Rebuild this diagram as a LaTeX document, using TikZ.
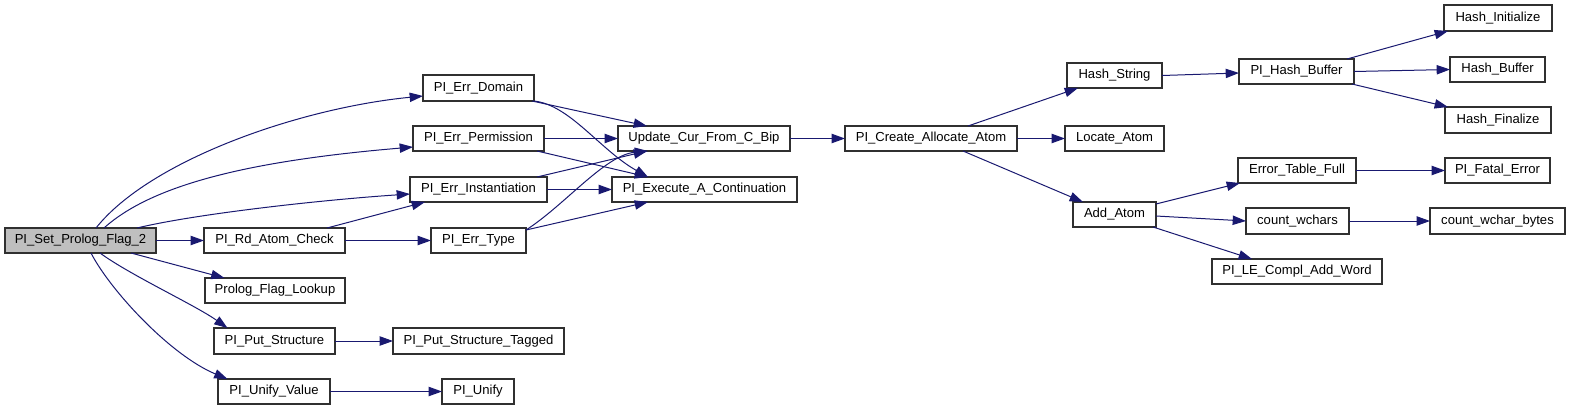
\documentclass[tikz,border=0pt]{standalone}
\usepackage{fontspec}
\setmainfont{Liberation Sans}
\usetikzlibrary{arrows.meta,calc}
\definecolor{edgeblue}{HTML}{191970}
\definecolor{startgray}{HTML}{BFBFBF}
\definecolor{boxline}{HTML}{303030}
\tikzset{
  fnbox/.style={draw=boxline, line width=0.8pt, fill=white, inner sep=0pt, outer sep=0pt, font=\fontsize{9.8}{11}\selectfont},
  startbox/.style={fnbox, fill=startgray},
  call/.style={draw=edgeblue, line width=0.75pt, -{Triangle[length=10pt,width=7pt]}, edgeblue}
}
\newcommand{\fnnode}[7]{\node[#1, minimum width={(#5-#3)*0.75pt}, minimum height={(#6-#4)*0.75pt}] (#2) at ({(#3+#5)/2},{(#4+#6)/2}) {#7};}
\begin{document}
\begin{tikzpicture}[x=0.75pt,y=-0.75pt]
\useasboundingbox (0,0) rectangle (1571,411);
% nodes
\fnnode{startbox}{set}{5}{228}{156}{253}{PI\_Set\_Prolog\_Flag\_2}
\fnnode{fnbox}{dom}{423}{75}{534}{101}{PI\_Err\_Domain}
\fnnode{fnbox}{perm}{413}{126}{544}{151}{PI\_Err\_Permission}
\fnnode{fnbox}{inst}{410}{177}{547}{202}{PI\_Err\_Instantiation}
\fnnode{fnbox}{rd}{204}{228}{345}{253}{PI\_Rd\_Atom\_Check}
\fnnode{fnbox}{typ}{431}{228}{526}{253}{PI\_Err\_Type}
\fnnode{fnbox}{pfl}{205}{278}{345}{303}{Prolog\_Flag\_Lookup}
\fnnode{fnbox}{put}{214}{328}{335}{354}{PI\_Put\_Structure}
\fnnode{fnbox}{putt}{393}{328}{564}{354}{PI\_Put\_Structure\_Tagged}
\fnnode{fnbox}{uv}{218}{379}{330}{404}{PI\_Unify\_Value}
\fnnode{fnbox}{un}{442}{379}{514}{404}{PI\_Unify}
\fnnode{fnbox}{upd}{618}{126}{790}{151}{Update\_Cur\_From\_C\_Bip}
\fnnode{fnbox}{exe}{612}{177}{797}{202}{PI\_Execute\_A\_Continuation}
\fnnode{fnbox}{cre}{845}{126}{1017}{151}{PI\_Create\_Allocate\_Atom}
\fnnode{fnbox}{hs}{1067}{63}{1162}{88}{Hash\_String}
\fnnode{fnbox}{loc}{1065}{126}{1164}{151}{Locate\_Atom}
\fnnode{fnbox}{add}{1073}{202}{1156}{227}{Add\_Atom}
\fnnode{fnbox}{phb}{1239}{59}{1354}{84}{PI\_Hash\_Buffer}
\fnnode{fnbox}{hi}{1444}{5}{1552}{31}{Hash\_Initialize}
\fnnode{fnbox}{hb}{1450}{57}{1545}{82}{Hash\_Buffer}
\fnnode{fnbox}{hf}{1445}{107}{1551}{133}{Hash\_Finalize}
\fnnode{fnbox}{etf}{1238}{158}{1356}{183}{Error\_Table\_Full}
\fnnode{fnbox}{pfe}{1445}{158}{1550}{183}{PI\_Fatal\_Error}
\fnnode{fnbox}{cw}{1246}{208}{1349}{234}{count\_wchars}
\fnnode{fnbox}{cwb}{1430}{208}{1565}{234}{count\_wchar\_bytes}
\fnnode{fnbox}{le}{1212}{259}{1382}{284}{PI\_LE\_Compl\_Add\_Word}
% edges from PI_Set_Prolog_Flag_2
\draw[call] ($(set.north west)+(91,0)$) .. controls (150,160) and (300,108) .. ($(dom.north west)+(0,21)$);
\draw[call] ($(set.north west)+(99,0)$) .. controls (155,182) and (260,160) .. ($(perm.north west)+(0,21)$);
\draw[call] ($(set.north west)+(132,0)$) .. controls (195,214) and (320,200) .. ($(inst.north west)+(0,17)$);
\draw[call] (set.east) -- (rd.west);
\draw[call] ($(set.south west)+(126,0)$) -- ($(pfl.north west)+(19.5,0)$);
\draw[call] ($(set.south west)+(95,0)$) .. controls (130,275) and (195,305) .. ($(put.north west)+(13.5,0)$);
\draw[call] ($(set.south west)+(86,0)$) .. controls (110,290) and (170,355) .. ($(uv.north west)+(9.5,0)$);
% PI_Rd_Atom_Check
\draw[call] ($(rd.north east)+(-18,0)$) -- ($(inst.south west)+(15,0)$);
\draw[call] (rd.east) -- (typ.west);
% error functions
\draw[call] ($(dom.south east)+(-2,0)$) -- ($(upd.north west)+(29,0)$);
\draw[call] (dom.south east) .. controls (570,105) and (600,150) .. ($(exe.north west)+(36,0)$);
\draw[call] (perm.east) -- (upd.west);
\draw[call] ($(perm.south east)+(-7,0)$) -- ($(exe.north west)+(36,0)$);
\draw[call] ($(inst.north east)+(-10,0)$) -- ($(upd.south west)+(29,0)$);
\draw[call] (inst.east) -- (exe.west);
\draw[call] ($(typ.north east)+(0,2)$) .. controls (565,205) and (605,155) .. ($(upd.south west)+(30,0)$);
\draw[call] ($(typ.north east)+(0,2)$) -- ($(exe.south west)+(36,0)$);
% right part
\draw[call] (upd.east) -- (cre.west);
\draw[call] ($(cre.north west)+(123,0)$) -- ($(hs.south west)+(11,0)$);
\draw[call] (cre.east) -- (loc.west);
\draw[call] ($(cre.south west)+(118,0)$) -- ($(add.north west)+(10,0)$);
\draw[call] (hs.east) -- ($(phb.west)+(0,1.5)$);
\draw[call] ($(phb.north east)+(-7,0)$) -- ($(hi.south west)+(4,0)$);
\draw[call] (phb.east) -- (hb.west);
\draw[call] ($(phb.south east)+(-2,0)$) -- ($(hf.north west)+(3,0)$);
\draw[call] ($(add.north east)+(0,2)$) -- ($(etf.south west)+(2,0)$);
\draw[call] ($(add.east)+(0,1.5)$) -- (cw.west);
\draw[call] ($(add.south east)+(-3,0)$) -- ($(le.north west)+(40,0)$);
\draw[call] (etf.east) -- (pfe.west);
\draw[call] (cw.east) -- (cwb.west);
\draw[call] (put.east) -- (putt.west);
\draw[call] (uv.east) -- (un.west);
\end{tikzpicture}
\end{document}
